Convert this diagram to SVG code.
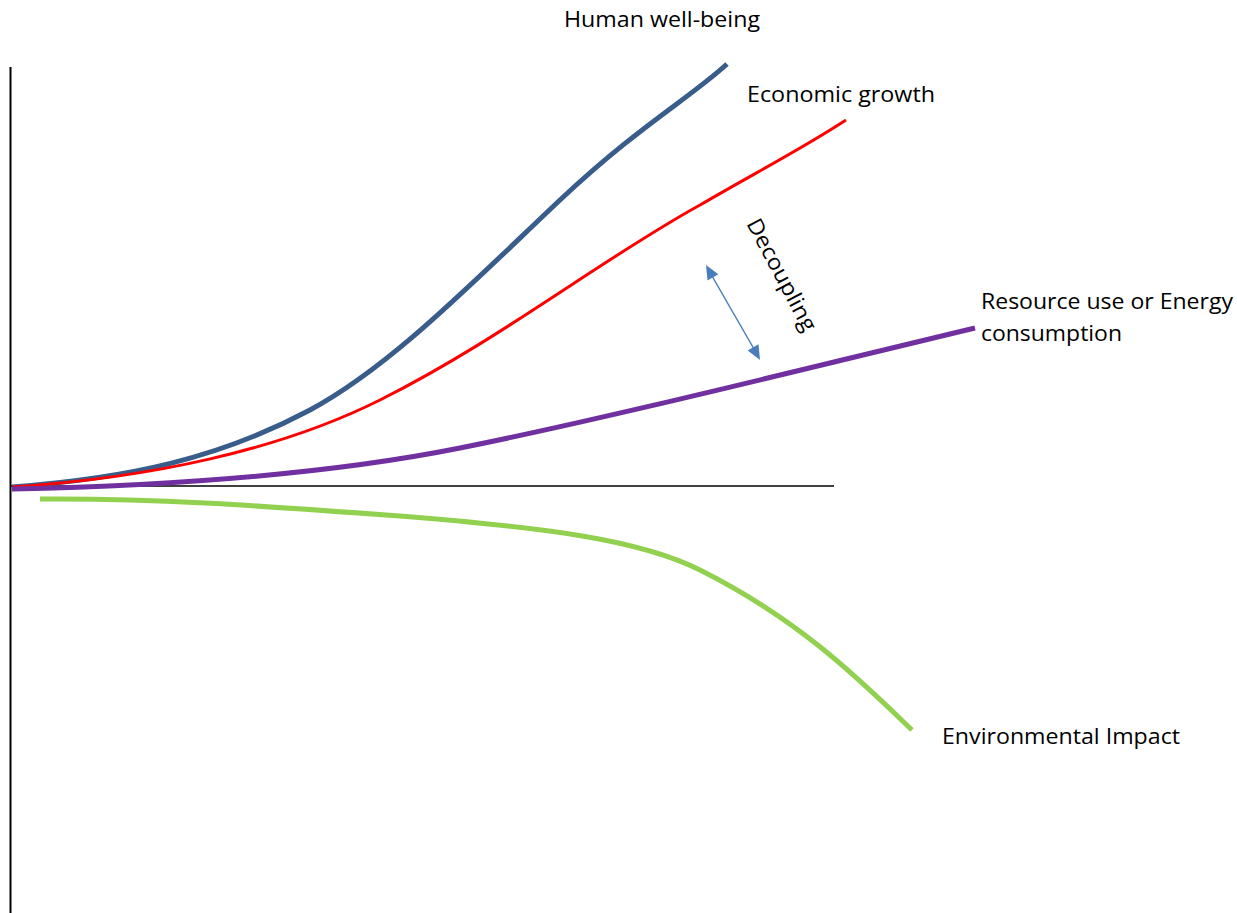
<svg xmlns="http://www.w3.org/2000/svg" width="1237" height="913" viewBox="0 0 1237 913">
<defs>
<style>
.lbl{font-family:"Open Sans","Liberation Sans",sans-serif;font-size:22px;fill:#000}
.curve{fill:none;stroke-linecap:butt}
.head{fill:#4A7EBB}
</style>
</defs>
<rect width="1237" height="913" fill="#fff"/>
<g id="axes">
<line x1="10.5" y1="67" x2="10.5" y2="913" stroke="#000" stroke-width="2"/>
<line x1="10" y1="486" x2="834" y2="486" stroke="#000" stroke-width="1.5"/>
</g>
<g id="connectors">
<path id="human" class="curve" d="M12,487 C130,478 220,458 310,410 C390,367 470,285 560,200 C640,125 690,98 727,64" stroke="#385D8A" stroke-width="5"/>
<path id="economic" class="curve" d="M12,487 C150,478 280,450 380,400 C500,340 600,260 700,205 C760,170 800,150 846,120" stroke="#FF0000" stroke-width="3"/>
<path id="resource" class="curve" d="M12,489 C200,485 350,470 460,448 C600,420 800,370 975,328" stroke="#7030A0" stroke-width="5"/>
<path id="environment" class="curve" d="M40,499 C150,498 250,505 400,516 C550,528 640,540 700,570 C800,620 860,680 912,730" stroke="#92D050" stroke-width="5"/>
<g id="decoupling-arrow">
<line x1="712" y1="276" x2="754" y2="349" stroke="#4A7EBB" stroke-width="1.5"/>
<polygon class="head" points="706,265 707.5,280.5 718.3,274.3"/>
<polygon class="head" points="760,360 747.7,350.5 758.5,344.3"/>
</g>
</g>
<g id="label-human"><text class="lbl" x="564" y="27" textLength="196" lengthAdjust="spacingAndGlyphs">Human well-being</text></g>
<g id="label-economic"><text class="lbl" x="747" y="102" textLength="188" lengthAdjust="spacingAndGlyphs">Economic growth</text></g>
<g id="label-resource"><text class="lbl" x="981" y="309" textLength="252" lengthAdjust="spacingAndGlyphs">Resource use or Energy</text><text class="lbl" x="981" y="341" textLength="141" lengthAdjust="spacingAndGlyphs">consumption</text></g>
<g id="label-environment"><text class="lbl" x="942" y="744" textLength="238" lengthAdjust="spacingAndGlyphs">Environmental Impact</text></g>
<g id="label-decoupling"><text class="lbl" transform="translate(783,274) rotate(62)" text-anchor="middle" dominant-baseline="central" textLength="124" lengthAdjust="spacingAndGlyphs">Decoupling</text></g>
</svg>
